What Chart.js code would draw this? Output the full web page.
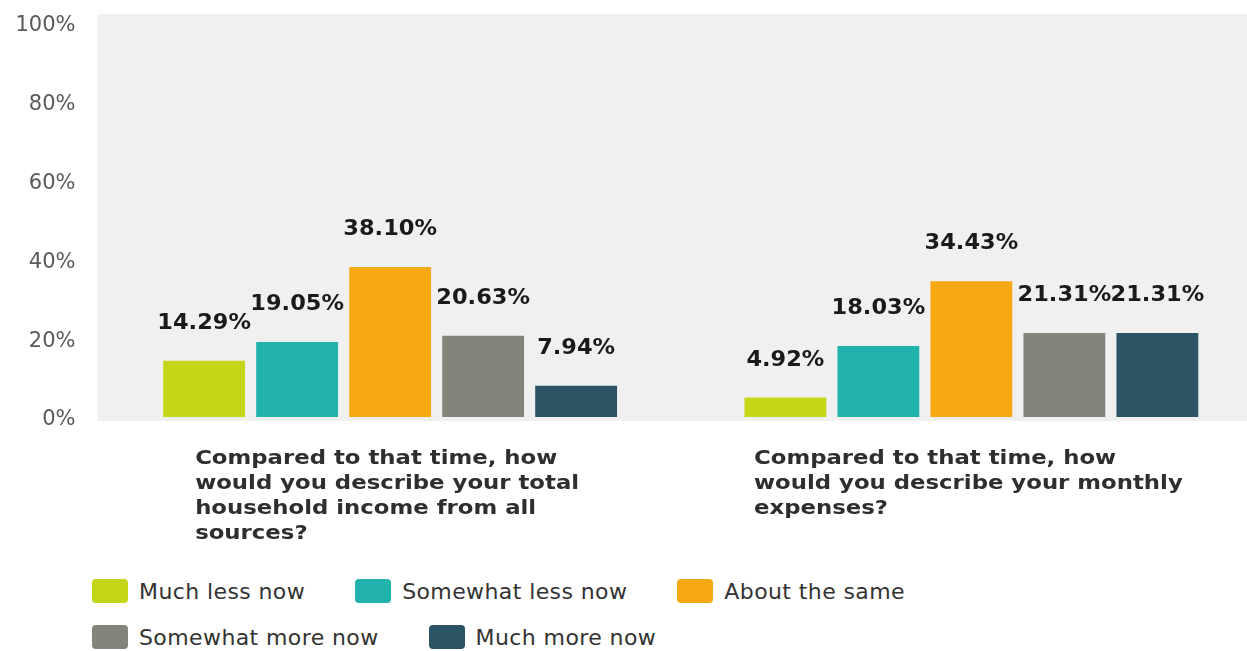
<!DOCTYPE html>
<html>
<head>
<meta charset="utf-8">
<script src="https://cdn.jsdelivr.net/npm/chart.js@4.4.0/dist/chart.umd.min.js"></script>
<style>
  html, body { margin: 0; padding: 0; background: #fff; overflow: hidden; }
  #wrap { position: relative; width: 1247px; height: 651px; overflow: hidden; }
  #chartBox { position: absolute; left: 0; top: 0; width: 1262px; height: 560px; }
  #legend {
    position: absolute; left: 92px; top: 578px; width: 880px;
    display: flex; flex-wrap: wrap; row-gap: 20px;
    font-family: 'DejaVu Sans', sans-serif; font-size: 22px; letter-spacing: 0.4px; color: #333;
  }
  .item { display: flex; align-items: center; height: 26px; margin-right: 50px; white-space: nowrap; }
  .swatch { width: 36px; height: 24px; border-radius: 4px; margin-right: 11px; }
</style>
</head>
<body>
<div id="wrap">
  <div id="chartBox"><canvas id="surveyChart"></canvas></div>
  <div id="legend"></div>
</div>
<script>
// questions on the x axis, one line per array entry
const categories = [
  ["Compared to that time, how", "would you describe your total", "household income from all", "sources?"],
  ["Compared to that time, how", "would you describe your monthly", "expenses?"]
];

const seriesNames = ["Much less now", "Somewhat less now", "About the same", "Somewhat more now", "Much more now"];

// percent of respondents, [income, expenses]
const muchLess = [14.29, 4.92];
const somewhatLess = [19.05, 18.03];
const aboutSame = [38.10, 34.43];
const somewhatMore = [20.63, 21.31];
const muchMore = [7.94, 21.31];

const yTicks = [0, 20, 40, 60, 80, 100];

const seriesColors = ["#c5d618", "#22b2ac", "#f6a912", "#84847a", "#2b5464"];

const seriesValues = [muchLess, somewhatLess, aboutSame, somewhatMore, muchMore];

// light grey panel behind the bars
const plotBackground = {
  id: "plotBackground",
  beforeDraw(chart) {
    const { ctx, chartArea } = chart;
    ctx.save();
    ctx.fillStyle = "#f0f0f0";
    ctx.fillRect(chartArea.left - 2, 14, chart.width, chartArea.bottom + 4 - 14);
    ctx.restore();
  }
};

// draws text stretched sideways, left edge at x
function wideText(ctx, text, x, y, sx) {
  ctx.save();
  ctx.translate(x, y);
  ctx.scale(sx, 1);
  ctx.fillText(text, 0, 0);
  ctx.restore();
}

// value labels above each bar
const barValues = {
  id: "barValues",
  afterDatasetsDraw(chart) {
    const ctx = chart.ctx;
    const sx = 1.07;
    ctx.save();
    ctx.font = "bold 21px 'DejaVu Sans'";
    ctx.fillStyle = "#1a1a1a";
    ctx.textAlign = "left";
    ctx.textBaseline = "alphabetic";
    chart.data.datasets.forEach((ds, i) => {
      chart.getDatasetMeta(i).data.forEach((bar, j) => {
        const txt = ds.data[j].toFixed(2) + "%";
        const w = ctx.measureText(txt).width * sx;
        wideText(ctx, txt, bar.x - w / 2, bar.y - 32, sx);
      });
    });
    ctx.restore();
  }
};

// question text under each group, block centred on the tick, lines left aligned
const categoryLabels = {
  id: "categoryLabels",
  afterDraw(chart) {
    const ctx = chart.ctx;
    const xScale = chart.scales.x;
    const sx = 1.14;
    ctx.save();
    ctx.font = "bold 20px 'DejaVu Sans'";
    ctx.fillStyle = "#2e2e2e";
    ctx.textAlign = "left";
    ctx.textBaseline = "alphabetic";
    chart.data.labels.forEach((lines, i) => {
      const cx = xScale.getPixelForTick(i);
      const w = Math.max(...lines.map(l => ctx.measureText(l).width)) * sx;
      lines.forEach((line, k) => {
        wideText(ctx, line, cx - w / 2 - 3, 464 + k * 25, sx);
      });
    });
    ctx.restore();
  }
};

const ctx = document.getElementById("surveyChart").getContext("2d");

new Chart(ctx, {
  type: "bar",
  data: {
    labels: categories,
    datasets: seriesNames.map((name, i) => ({
      label: name,
      data: seriesValues[i],
      backgroundColor: seriesColors[i],
      borderWidth: 0,
      barPercentage: 0.88,
      categoryPercentage: 0.8
    }))
  },
  options: {
    responsive: true,
    maintainAspectRatio: false,
    animation: false,
    devicePixelRatio: 1,
    layout: { padding: { top: 23, bottom: 143, left: 0, right: 0 } },
    plugins: {
      legend: { display: false },
      tooltip: { enabled: false }
    },
    scales: {
      x: {
        grid: { display: false },
        border: { display: false },
        ticks: { display: false },
        afterFit(scale) { scale.height = 0; }
      },
      y: {
        min: 0,
        max: 100,
        grid: { display: false, drawTicks: false },
        border: { display: false },
        afterBuildTicks(scale) { scale.ticks = yTicks.map(v => ({ value: v })); },
        afterFit(scale) {
          scale.width = 99.5;
          // let the layout padding alone set the plot top and bottom
          scale.paddingTop = 0;
          scale.paddingBottom = 0;
        },
        ticks: {
          padding: 24,
          labelOffset: 3,
          color: "#5a5a5a",
          font: { family: "'DejaVu Sans'", size: 21 },
          callback: v => v + "%"
        }
      }
    }
  },
  plugins: [plotBackground, barValues, categoryLabels]
});

// legend built from the same series names and colours
const legend = document.getElementById("legend");
seriesNames.forEach((name, i) => {
  const item = document.createElement("div");
  item.className = "item";
  const sw = document.createElement("span");
  sw.className = "swatch";
  sw.style.background = seriesColors[i];
  item.appendChild(sw);
  item.appendChild(document.createTextNode(name));
  legend.appendChild(item);
});
</script>
</body>
</html>
